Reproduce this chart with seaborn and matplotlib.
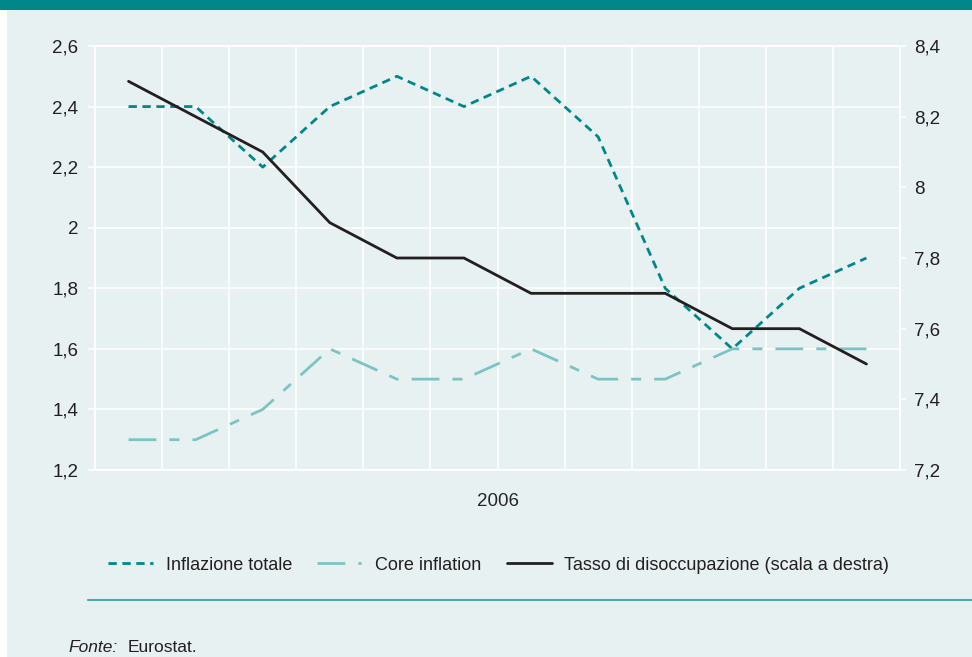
import matplotlib
matplotlib.use("Agg")
import matplotlib.pyplot as plt
import matplotlib.patches as mpatches
from matplotlib.ticker import FuncFormatter
from matplotlib.lines import Line2D
import numpy as np
import pandas as pd
import seaborn as sns

# =============================================================================
# dati (2006, mensili)
# =============================================================================
mesi = list(range(12))
inflazione = [2.4, 2.4, 2.2, 2.4, 2.5, 2.4, 2.5, 2.3, 1.8, 1.6, 1.8, 1.9]
core = [1.3, 1.3, 1.4, 1.6, 1.5, 1.5, 1.6, 1.5, 1.5, 1.6, 1.6, 1.6]
disoccupazione = [8.3, 8.2, 8.1, 7.9, 7.8, 7.8, 7.7, 7.7, 7.7, 7.6, 7.6, 7.5]

left_ticks = [1.2, 1.4, 1.6, 1.8, 2.0, 2.2, 2.4, 2.6]
right_ticks = [7.2, 7.4, 7.6, 7.8, 8.0, 8.2, 8.4]

df = pd.DataFrame({"mese": mesi, "inflazione": inflazione, "core": core,
                   "disoccupazione": disoccupazione})

BG = "#e7f1f2"
TEAL = "#00878a"
LIGHT = "#7cc4c3"
BLACK = "#231f20"
FS = 13.5

sns.set_style("darkgrid", {"axes.facecolor": BG, "grid.color": "white",
                           "axes.edgecolor": "white"})
plt.rcParams["font.family"] = ["Liberation Sans", "DejaVu Sans"]
plt.rcParams["text.color"] = BLACK

def fmt(v, pos):
    s = f"{v:.1f}".replace(".", ",")
    return s[:-2] if s.endswith(",0") else s

fig = plt.figure(figsize=(9.72, 6.57), dpi=100, facecolor="white")
# sfondo e banda in alto
fig.patches.append(mpatches.Rectangle((7 / 972, 0), 1, 1, transform=fig.transFigure,
                                      facecolor=BG, edgecolor="none", zorder=-10))
fig.patches.append(mpatches.Rectangle((0, 1 - 10 / 657), 1, 10 / 657, transform=fig.transFigure,
                                      facecolor=TEAL, edgecolor="none", zorder=-9))

ax = fig.add_axes([95 / 972, 1 - 470 / 657, 805 / 972, 424 / 657])
sns.lineplot(data=df, x="mese", y="inflazione", ax=ax, color=TEAL, lw=2,
             linestyle=(0, (3, 2)), legend=False)
sns.lineplot(data=df, x="mese", y="core", ax=ax, color=LIGHT, lw=2,
             linestyle=(0, (10, 4.7, 3.6, 4.7)), legend=False)
ax.set_xlim(-0.5, 11.5)
ax.set_ylim(1.2, 2.6)
ax.set_yticks(left_ticks)
ax.yaxis.set_major_formatter(FuncFormatter(fmt))
ax.set_xticks(np.arange(-0.5, 12, 1))
ax.set_xticklabels([])
ax.tick_params(axis="x", length=0)
ax.tick_params(axis="y", left=True, length=5, width=1.2, color="white",
               pad=7, labelsize=FS, labelcolor=BLACK)
ax.grid(True, color="white", lw=1.2)
ax.set_xlabel("2006", fontsize=FS, labelpad=13)
ax.set_ylabel("")
for s in ax.spines.values():
    s.set_color("white")
    s.set_linewidth(1.2)

ax2 = ax.twinx()
sns.lineplot(data=df, x="mese", y="disoccupazione", ax=ax2, color=BLACK, lw=2,
             legend=False)
ax2.set_ylim(7.2, 8.4)
ax2.set_yticks(right_ticks)
ax2.yaxis.set_major_formatter(FuncFormatter(fmt))
ax2.grid(False)
ax2.set_ylabel("")
ax2.tick_params(axis="y", right=True, length=4, width=1.2, color="white",
                pad=6, labelsize=FS, labelcolor=BLACK)
for s in ax2.spines.values():
    s.set_color("white")
    s.set_linewidth(1.2)

handles = [Line2D([], [], color=TEAL, lw=2, linestyle=(0, (3, 2))),
           Line2D([], [], color=LIGHT, lw=2, linestyle=(0, (10, 4.7, 1.2, 4.7))),
           Line2D([], [], color=BLACK, lw=2)]
labels = ["Inflazione totale", "Core inflation", "Tasso di disoccupazione (scala a destra)"]
fig.legend(handles, labels, loc="center", bbox_to_anchor=(0.513, 1 - 565 / 657),
           ncol=3, frameon=False, fontsize=13, handlelength=2.5,
           handletextpad=0.7, columnspacing=1.4)

# linea di separazione e fonte
fig.add_artist(Line2D([88 / 972, 1], [1 - 600 / 657] * 2, transform=fig.transFigure,
                      color="#4aa9aa", lw=1.5))
fig.text(68 / 972, 1 - 647 / 657, "Fonte:", fontsize=12.5, style="italic",
         va="center", ha="left")
fig.text(128 / 972, 1 - 647 / 657, "Eurostat.", fontsize=12.5, va="center", ha="left")

fig.savefig("out.png", dpi=100, facecolor=fig.get_facecolor())
